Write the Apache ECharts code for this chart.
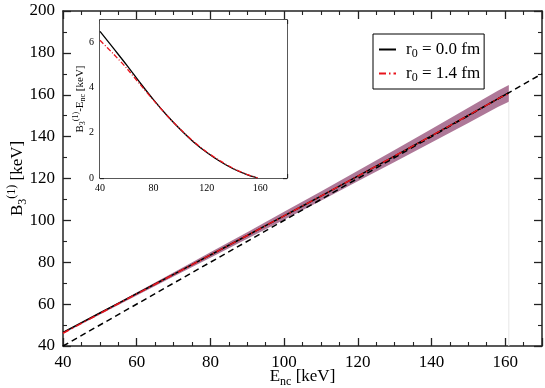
<!DOCTYPE html>
<html>
<head>
<meta charset="utf-8">
<script src="https://cdn.jsdelivr.net/npm/echarts@6/dist/echarts.min.js"></script>
<style>
  html, body { margin: 0; padding: 0; background: #fff; }
  #chart { width: 545px; height: 388px; }
</style>
</head>
<body>
<div id="chart"></div>
<script>
// inset: B3(1) - Enc vs Enc
const insetE = [40, 50, 60, 70, 80, 90, 100, 110, 120, 130, 140, 150, 158];
const insetR00 = [6.5, 5.75, 5.0, 4.22, 3.47, 2.78, 2.16, 1.6, 1.13, 0.73, 0.4, 0.15, 0.0];
const insetR14 = [6.1, 5.5, 4.86, 4.15, 3.45, 2.78, 2.17, 1.62, 1.15, 0.76, 0.42, 0.16, 0.0];

// main: B3(1) vs Enc
const mainE = [40, 50, 60, 70, 80, 90, 100, 110, 120, 130, 140, 150, 158, 161];
const mainR00 = [46.5, 55.75, 65.0, 74.22, 83.47, 92.78, 102.16, 111.6, 121.13, 130.73, 140.4, 150.15, 158.0, 161.0];
const mainR14 = [46.1, 55.5, 64.86, 74.15, 83.45, 92.78, 102.17, 111.62, 121.15, 130.76, 140.42, 150.16, 158.0, 160.6];

// uncertainty band around r0 = 1.4 fm
const bandLow = [45.8, 55.0, 64.16, 73.15, 82.15, 91.18, 100.27, 109.42, 118.65, 127.91, 137.22, 146.56, 154.1, 156.6];
const bandHigh = [46.4, 56.0, 65.56, 75.15, 84.75, 94.38, 104.07, 113.82, 123.65, 133.61, 143.62, 153.76, 161.9, 164.6];

// Enc = B reference line
const diagE = [40, 170];
const diagB = [40, 170];

// faint vertical line at the band end
const edgeE = [161, 161];
const edgeB = [40, 156.6];

const mainXRange = [40, 170];
const mainYRange = [40, 200];
const insetXRange = [40, 180];
const insetYRange = [0, 7];

const NAME0 = 'r0 = 0.0 fm';
const NAME14 = 'r0 = 1.4 fm';
const FONT = 'Liberation Serif';
const AXIS_COLOR = '#222';
const RED = '#e8141c';

const zip = (xs, ys) => xs.map((x, i) => [x, ys[i]]);

const chart = echarts.init(document.getElementById('chart'), null, { renderer: 'canvas' });

// 坐标轴公共样式
function makeAxis(opts) {
  const { range, interval, minorSplit, gridIndex, position, showLabel, fontSize, tickLen, extra } = opts;
  return Object.assign({
    type: 'value',
    gridIndex,
    position,
    min: range[0],
    max: range[1],
    interval,
    nameMoveOverlap: false,
    axisLine: { show: true, onZero: false, lineStyle: { color: AXIS_COLOR, width: 1.5 } },
    axisTick: { show: true, inside: true, length: tickLen, lineStyle: { color: AXIS_COLOR, width: 1.3 } },
    minorTick: { show: true, splitNumber: minorSplit, length: tickLen / 2, lineStyle: { color: AXIS_COLOR, width: 1.1 } },
    splitLine: { show: false },
    axisLabel: {
      show: showLabel,
      fontFamily: FONT,
      fontSize,
      color: '#000',
      showMaxLabel: range[1] % interval === 0
    }
  }, extra || {});
}

const option = {
  backgroundColor: '#fff',
  animation: false,
  grid: [
    { left: 63, right: 3, top: 11, bottom: 42, outerBoundsMode: 'none' },
    { left: 100, right: 258, top: 20, bottom: 210, outerBoundsMode: 'none', show: true, backgroundColor: '#fff', borderWidth: 0, z: 5 }
  ],
  legend: {
    data: [NAME0, NAME14],
    orient: 'vertical',
    left: 373,
    top: 34,
    padding: [7, 4, 5, 5],
    itemWidth: 17,
    itemHeight: 12,
    itemGap: 5,
    borderColor: '#000',
    borderWidth: 1,
    backgroundColor: '#fff',
    itemStyle: { opacity: 0 },
    formatter: name => name === NAME0 ? '{a|r}{s|0}{r| = 0.0 fm}' : '{a|r}{s|0}{r| = 1.4 fm}',
    textStyle: {
      fontFamily: FONT,
      color: '#000',
      rich: {
        a: { fontFamily: FONT, fontSize: 17, color: '#000', padding: [0, 0, 0, 5] },
        r: { fontFamily: FONT, fontSize: 17, color: '#000' },
        s: { fontFamily: FONT, fontSize: 12, color: '#000', padding: [9, 0, 0, 0] }
      }
    }
  },
  xAxis: [
    makeAxis({
      range: mainXRange, interval: 20, minorSplit: 4, gridIndex: 0, position: 'bottom', showLabel: true, fontSize: 17, tickLen: 8,
      extra: {
        name: '{e|E}{s|nc}{e| [keV]}',
        nameLocation: 'middle',
        nameGap: 20,
        nameTextStyle: {
          rich: {
            e: { fontFamily: FONT, fontSize: 17, color: '#000' },
            s: { fontFamily: FONT, fontSize: 12, color: '#000', padding: [10, 0, 0, 0] }
          }
        }
      }
    }),
    makeAxis({ range: mainXRange, interval: 20, minorSplit: 4, gridIndex: 0, position: 'top', showLabel: false, fontSize: 16, tickLen: 8 }),
    makeAxis({ range: insetXRange, interval: 40, minorSplit: 4, gridIndex: 1, position: 'bottom', showLabel: true, fontSize: 9, tickLen: 4,
      extra: { axisLabel: { show: true, fontFamily: FONT, fontSize: 10, color: '#000', margin: 5, showMaxLabel: false } } }),
    makeAxis({ range: insetXRange, interval: 40, minorSplit: 4, gridIndex: 1, position: 'top', showLabel: false, fontSize: 9, tickLen: 4 })
  ],
  yAxis: [
    makeAxis({
      range: mainYRange, interval: 20, minorSplit: 2, gridIndex: 0, position: 'left', showLabel: true, fontSize: 17, tickLen: 8,
      extra: {
        name: '{b|B}{s|3}{p|(1)}{b| [keV]}',
        nameLocation: 'middle',
        nameRotate: 90,
        nameGap: 33,
        nameTextStyle: {
          rich: {
            b: { fontFamily: FONT, fontSize: 17, color: '#000' },
            s: { fontFamily: FONT, fontSize: 12, color: '#000', padding: [10, 0, 0, 0] },
            p: { fontFamily: FONT, fontSize: 12, color: '#000', padding: [0, 0, 12, 0] }
          }
        }
      }
    }),
    makeAxis({ range: mainYRange, interval: 20, minorSplit: 2, gridIndex: 0, position: 'right', showLabel: false, fontSize: 16, tickLen: 8 }),
    makeAxis({
      range: insetYRange, interval: 2, minorSplit: 4, gridIndex: 1, position: 'left', showLabel: true, fontSize: 9, tickLen: 4,
      extra: {
        axisLabel: { show: true, fontFamily: FONT, fontSize: 10, color: '#000', margin: 6, showMaxLabel: false },
        name: '{b|B}{s|3}{p|(1)}{b|-E}{s|nc}{b| [keV]}',
        nameLocation: 'middle',
        nameRotate: 90,
        nameGap: 12,
        nameTextStyle: {
          rich: {
            b: { fontFamily: FONT, fontSize: 11, color: '#000' },
            s: { fontFamily: FONT, fontSize: 8, color: '#000', padding: [6, 0, 0, 0] },
            p: { fontFamily: FONT, fontSize: 8, color: '#000', padding: [0, 0, 8, 0] }
          }
        }
      }
    }),
    makeAxis({ range: insetYRange, interval: 2, minorSplit: 4, gridIndex: 1, position: 'right', showLabel: false, fontSize: 9, tickLen: 4 })
  ],
  series: [
    {
      // 误差带
      type: 'custom',
      xAxisIndex: 0,
      yAxisIndex: 0,
      silent: true,
      z: 1,
      data: mainE.map((e, i) => [e, bandLow[i], bandHigh[i]]),
      renderItem: (params, api) => {
        if (params.dataIndex !== 0) return null;
        const upper = mainE.map((e, i) => api.coord([e, bandHigh[i]]));
        const lower = mainE.map((e, i) => api.coord([e, bandLow[i]])).reverse();
        return {
          type: 'polygon',
          shape: { points: upper.concat(lower) },
          style: { fill: '#ae7898' }
        };
      }
    },
    {
      type: 'line',
      xAxisIndex: 0,
      yAxisIndex: 0,
      data: zip(edgeE, edgeB),
      symbol: 'none',
      silent: true,
      z: 1,
      lineStyle: { color: '#e6e6e6', width: 1 }
    },
    {
      type: 'line',
      xAxisIndex: 0,
      yAxisIndex: 0,
      data: zip(diagE, diagB),
      symbol: 'none',
      z: 2,
      lineStyle: { color: '#000', width: 1.5, type: [6, 4] }
    },
    {
      name: NAME0,
      type: 'line',
      xAxisIndex: 0,
      yAxisIndex: 0,
      data: zip(mainE, mainR00),
      symbol: 'none',
      smooth: 0.3,
      z: 3,
      itemStyle: { color: '#000' },
      lineStyle: { color: '#000', width: 1.5 }
    },
    {
      name: NAME14,
      type: 'line',
      xAxisIndex: 0,
      yAxisIndex: 0,
      data: zip(mainE, mainR14),
      symbol: 'none',
      smooth: 0.3,
      z: 4,
      itemStyle: { color: RED },
      lineStyle: { color: RED, width: 1.5, type: [7, 3, 1.5, 3] }
    },
    {
      name: NAME0,
      type: 'line',
      xAxisIndex: 2,
      yAxisIndex: 2,
      data: zip(insetE, insetR00),
      symbol: 'none',
      smooth: 0.3,
      z: 6,
      itemStyle: { color: '#000' },
      lineStyle: { color: '#000', width: 1.3 }
    },
    {
      name: NAME14,
      type: 'line',
      xAxisIndex: 2,
      yAxisIndex: 2,
      data: zip(insetE, insetR14),
      symbol: 'none',
      smooth: 0.3,
      z: 7,
      itemStyle: { color: RED },
      lineStyle: { color: RED, width: 1.3, type: [5, 2, 1, 2] }
    }
  ]
};

chart.setOption(option);
</script>
</body>
</html>
